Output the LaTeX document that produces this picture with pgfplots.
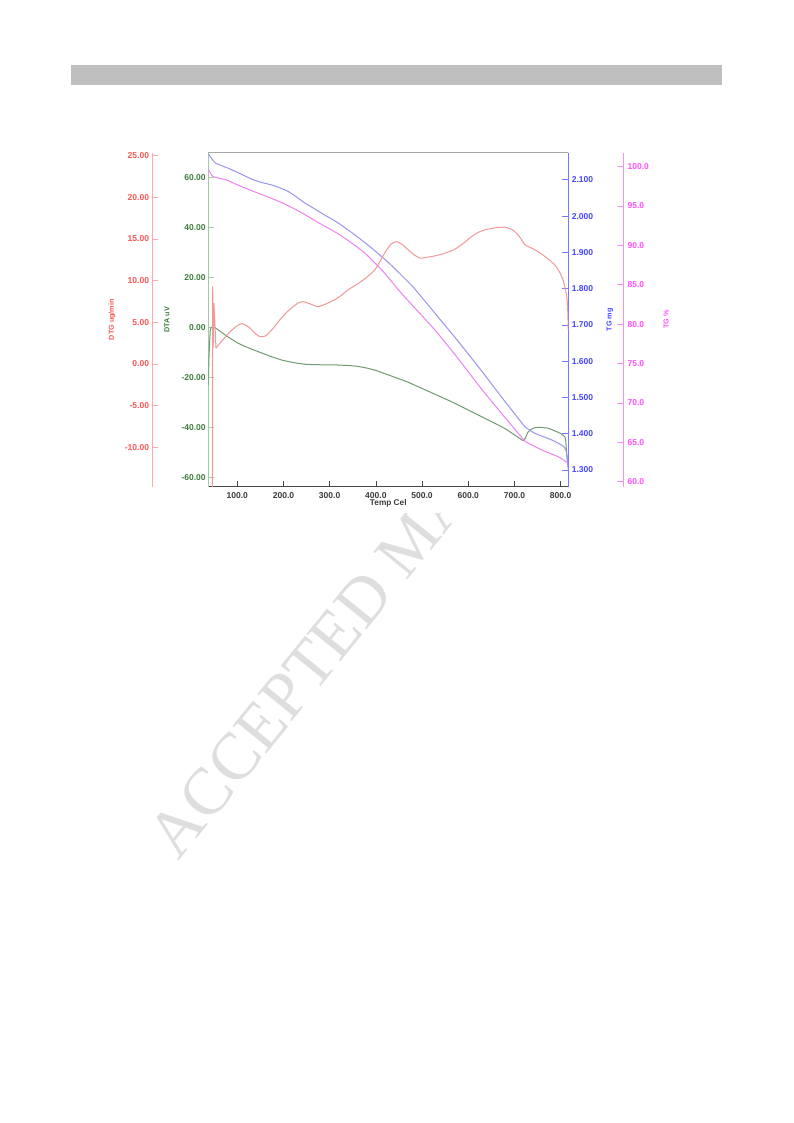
\documentclass[border=0pt]{standalone}
\usepackage{pgfplots}
\pgfplotsset{compat=1.18}
\usepackage{fontspec}
\setmainfont{Liberation Sans}
\newfontfamily\wmfont{Liberation Serif}
\definecolor{barfill}{RGB}{191,191,191}
\definecolor{wmcol}{RGB}{222,222,222}
\definecolor{dtaline}{RGB}{115,155,115}
\definecolor{dtaaxis}{RGB}{165,200,165}
\definecolor{dtalab}{RGB}{60,125,60}
\definecolor{dtgline}{RGB}{242,152,152}
\definecolor{dtgaxis}{RGB}{255,170,170}
\definecolor{dtglab}{RGB}{255,85,85}
\definecolor{tgline}{RGB}{150,150,240}
\definecolor{tgaxis}{RGB}{120,120,255}
\definecolor{tglab}{RGB}{70,70,255}
\definecolor{pcline}{RGB}{240,130,240}
\definecolor{pcaxis}{RGB}{255,140,255}
\definecolor{pclab}{RGB}{255,80,255}
\definecolor{xaxcol}{RGB}{70,70,70}
\definecolor{topcol}{RGB}{170,170,170}
\definecolor{xlab}{RGB}{60,60,60}
\newcommand{\tickfont}{\fontsize{6.4}{7}\selectfont\bfseries}
\newcommand{\labfont}{\fontsize{5.4}{6}\selectfont\bfseries}
\pgfplotsset{
  /pgf/number format/assume math mode=true,
  mainbox/.style={at={(156.2pt,-365pt)}, anchor=south west, scale only axis,
    width=270pt, height=250.5pt, xmin=37.2, xmax=816.5},
}
\begin{document}
\begin{tikzpicture}
\path[use as bounding box] (0,0) rectangle (594.75pt,-842.25pt);
\fill[barfill] (53.25pt,-48.75pt) rectangle (541.5pt,-63.75pt);
\node[rotate=51, anchor=base west, inner sep=0pt, text=wmcol, font=\wmfont\fontsize{50}{50}\selectfont] at (134pt,-646.5pt) {ACCEPTED MANUSCRIPT};
\fill[white] (71.25pt,-103.5pt) rectangle (528.75pt,-384.75pt);

% DTA axis (green), bottom temperature axis
\begin{axis}[mainbox,
  ymin=-63.76, ymax=69.84,
  axis x line*=bottom, axis y line*=left,
  x axis line style={draw=xaxcol, line width=0.6pt},
  y axis line style={draw=dtaaxis, line width=0.6pt},
  xtick={100,200,...,800}, ytick={-60,-40,...,60},
  xtick style={draw=xaxcol, line width=0.5pt}, ytick style={draw=dtaaxis, line width=0.6pt},
  major tick length=4.5pt, tick align=inside,
  xticklabel style={font=\tickfont, text=xlab, anchor=center, inner sep=0pt, yshift=-6.4pt,
    /pgf/number format/fixed, /pgf/number format/fixed zerofill, /pgf/number format/precision=1},
  yticklabel style={font=\tickfont, text=dtalab, anchor=east, inner sep=0pt, xshift=-1.7pt,
    /pgf/number format/fixed, /pgf/number format/fixed zerofill, /pgf/number format/precision=2},
  xlabel={Temp Cel}, ylabel={DTA uV},
  every axis x label/.style={at={(rel axis cs:0.5,-0.0510)}, anchor=center, inner sep=0pt, font=\fontsize{6.2}{7}\selectfont\bfseries, text=xlab},
  every axis y label/.style={at={(rel axis cs:-0.1147,0.5)}, rotate=90, anchor=center, inner sep=0pt, font=\labfont, text=dtalab},
]
\addplot[dtaline, line width=0.75pt, smooth, tension=0.3] coordinates {
(37.2,-23.1) (39.0,-11.0) (41.5,-1.5) (44,0.0) (48,0.2) (60,-1.2) (77,-3.5)
(102,-6.4) (125,-8.3) (146,-9.8) (170,-11.5) (196,-13.1) (221,-14.1) (247,-14.8)
(280,-15.0) (319,-15.1) (355,-15.5) (380,-16.3) (402,-17.4) (438,-19.8) (465,-21.6)
(492,-23.8) (528,-26.8) (564,-29.8) (600,-33.1) (636,-36.4) (680,-40.6) (719,-45.4)};
\addplot[dtaline, line width=0.75pt, smooth, tension=0.3] coordinates {
(719,-45.4) (723,-44.5) (730,-41.8) (740,-40.4) (752,-40.0) (773,-40.4) (799,-42.4) (809,-43.8)
(811,-45.5) (813,-50.4) (816.5,-55.8)};
\end{axis}

% TG mg axis (blue), right side; gray top border
\begin{axis}[mainbox,
  ymin=1.254, ymax=2.175,
  axis x line*=top, axis y line*=right,
  x axis line style={draw=topcol, line width=0.6pt},
  y axis line style={draw=tgaxis, line width=0.7pt},
  xtick=\empty, ytick={1.3,1.4,1.5,1.6,1.7,1.8,1.9,2.0,2.1},
  ytick style={draw=tgaxis, line width=0.6pt},
  major tick length=4.5pt, tick align=inside,
  yticklabel style={font=\tickfont, text=tglab, anchor=west, inner sep=0pt, xshift=2.5pt,
    /pgf/number format/fixed, /pgf/number format/fixed zerofill, /pgf/number format/precision=3},
  ylabel={TG mg},
  every axis y label/.style={at={(rel axis cs:1.1158,0.5)}, rotate=90, anchor=center, inner sep=0pt, font=\labfont, text=tglab},
]
\addplot[tgline, line width=0.75pt, smooth, tension=0.3] coordinates {
(37.2,2.172) (45,2.158) (53.2,2.146) (80.5,2.132) (105,2.118) (131.2,2.102) (152,2.093)
(174.5,2.086) (192,2.078) (210.4,2.068) (228,2.053) (246.5,2.036) (265,2.022) (282.7,2.008)
(318.6,1.981) (354.8,1.948) (390.9,1.912) (430.5,1.868) (480.3,1.805) (527.9,1.732)
(575.5,1.659) (625.3,1.579) (675.1,1.496) (722.7,1.419)};
\addplot[tgline, line width=0.75pt, smooth, tension=0.3] coordinates {
(722.7,1.419) (744.4,1.401) (780.5,1.383) (805.6,1.366) (811,1.355) (813,1.346) (815,1.319) (816.5,1.300)};
\end{axis}

% DTG data (red)
\begin{axis}[mainbox, ymin=-14.73, ymax=25.36, hide axis]
\addplot[dtgline, line width=0.75pt] coordinates {
(46.3,-16) (46.8,9.3) (47.8,2.0) (49.6,7.3) (53.9,1.9)};
\addplot[dtgline, line width=0.75pt, smooth, tension=0.35] coordinates {
(53.9,1.9) (62.6,2.5) (84,3.84) (100,4.6)
(110,4.84) (120,4.6) (128,4.29) (140,3.6) (149,3.28) (158,3.3) (164,3.48) (178,4.3)
(192,5.28) (207,6.2) (221,6.88) (233,7.35) (243,7.48) (258,7.2) (275,6.88) (296,7.3)
(319,7.98) (340,8.9) (360,9.6) (378,10.3) (398,11.3) (410,12.4) (420,13.4)
(433,14.4) (445,14.68) (458,14.3) (470,13.69) (483,13.1) (496,12.69) (510,12.8) (528,12.97)
(550,13.3) (571,13.77) (590,14.5) (607,15.28) (622,15.8) (636,16.09) (660,16.35) (679,16.41)
(692,16.2) (701,15.88) (712,15.2) (723,14.29) (737,13.9) (751,13.48) (766,12.9) (780,12.28)
(790,11.7) (799,10.89) (805,10.1) (809,9.28) (813,8.2) (815,6.9) (816.5,4.1)};
\end{axis}

% DTG scale (red), far left
\begin{axis}[at={(114.2pt,-365pt)}, anchor=south west, scale only axis,
  width=42pt, height=250.5pt, xmin=0, xmax=1, ymin=-14.73, ymax=25.36,
  hide x axis, axis y line*=left,
  y axis line style={draw=dtgaxis, line width=0.7pt},
  ytick={-10,-5,...,25}, ytick style={draw=dtgaxis, line width=0.6pt},
  major tick length=4.5pt, tick align=inside,
  yticklabel style={font=\tickfont, text=dtglab, anchor=east, inner sep=0pt, xshift=-2.2pt,
    /pgf/number format/fixed, /pgf/number format/fixed zerofill, /pgf/number format/precision=2},
  ylabel={DTG ug/min},
  every axis y label/.style={at={(rel axis cs:-0.7196,0.5)}, rotate=90, anchor=center, inner sep=0pt, font=\labfont, text=dtglab},
]
\end{axis}

% TG % data (magenta)
\begin{axis}[mainbox, ymin=59.37, ymax=101.78, hide axis]
\addplot[pcline, line width=0.75pt, smooth, tension=0.3] coordinates {
(37.2,99.67) (42,99.2) (48.1,98.73) (77.1,98.31) (100,97.7) (127.5,97.04) (160,96.3)
(199.6,95.35) (235,94.3) (271.9,93.02) (322.3,91.33) (372.7,89.21) (416,86.67) (452.1,84.13)
(488.3,81.80) (527.9,79.26) (575.5,75.83) (625.3,72.02) (675.1,68.46) (722.7,65.13)};
\addplot[pcline, line width=0.75pt, smooth, tension=0.3] coordinates {
(722.7,65.13) (758.9,64.03) (794.8,63.17) (816.5,62.34)};
\end{axis}

% TG % scale (magenta), far right
\begin{axis}[at={(467.5pt,-365pt)}, anchor=south east, scale only axis,
  width=41.25pt, height=250.5pt, xmin=0, xmax=1, ymin=59.37, ymax=101.78,
  hide x axis, axis y line*=right,
  y axis line style={draw=pcaxis, line width=0.7pt},
  ytick={60,65,...,100}, ytick style={draw=pcaxis, line width=0.6pt},
  major tick length=4.5pt, tick align=inside,
  yticklabel style={font=\tickfont, text=pclab, anchor=west, inner sep=0pt, xshift=3pt,
    /pgf/number format/fixed, /pgf/number format/fixed zerofill, /pgf/number format/precision=1},
  ylabel={TG \%},
  every axis y label/.style={at={(rel axis cs:1.776,0.5)}, rotate=90, anchor=center, inner sep=0pt, font=\labfont, text=pclab},
]
\end{axis}
\end{tikzpicture}
\end{document}
